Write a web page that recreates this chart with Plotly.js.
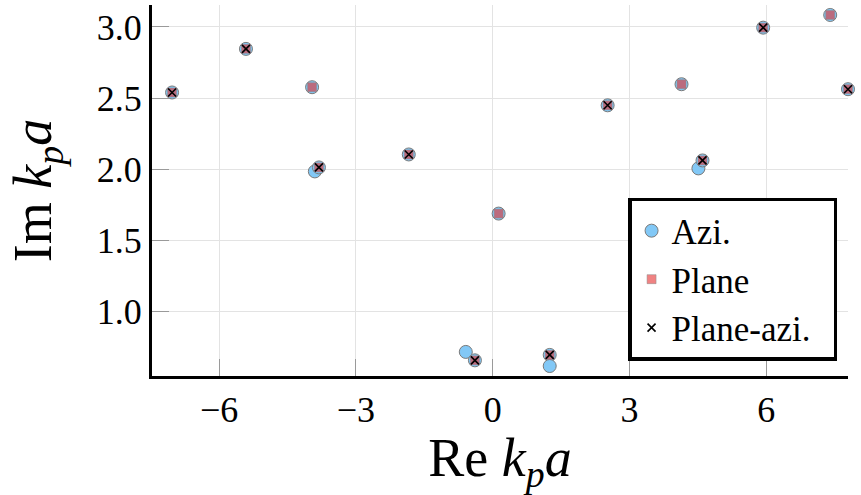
<!DOCTYPE html>
<html>
<head>
<meta charset="utf-8">
<script src="https://cdn.plot.ly/plotly-3.0.1.min.js"></script>
<style>html,body{margin:0;padding:0;background:#fff;}</style>
</head>
<body>
<div id="chart" style="width:861px;height:495px;"></div>
<script>
// Azimuthal solutions
const aziX = [-7.03, -5.41, -3.96, -3.90, -3.81, -1.84, 0.13, -0.59, -0.39, 1.25, 1.25, 2.52, 4.14, 4.51, 4.60, 5.93, 7.40, 7.79];
const aziY = [2.54, 2.846, 2.577, 1.986, 2.014, 2.105, 1.69, 0.719, 0.66, 0.698, 0.62, 2.45, 2.598, 2.007, 2.063, 2.995, 3.084, 2.563];
// Plane solutions
const planeX = [-7.03, -5.41, -3.96, -3.81, -1.84, 0.13, -0.39, 1.25, 2.52, 4.14, 4.60, 5.93, 7.40, 7.79];
const planeY = [2.54, 2.846, 2.577, 2.014, 2.105, 1.69, 0.66, 0.698, 2.45, 2.598, 2.063, 2.995, 3.084, 2.563];
// Plane-azi solutions
const planeAziX = [-7.03, -5.41, -3.81, -1.84, -0.39, 1.25, 2.52, 4.60, 5.93, 7.79];
const planeAziY = [2.54, 2.846, 2.014, 2.105, 0.66, 0.698, 2.45, 2.063, 2.995, 2.563];

const xTicks = [-6, -3, 0, 3, 6];
const xTickText = ['\u22126', '\u22123', '0', '3', '6'];
const yTicks = [1.0, 1.5, 2.0, 2.5, 3.0];
const yTickText = ['1.0', '1.5', '2.0', '2.5', '3.0'];

const FONT = 'Liberation Serif, DejaVu Serif, serif';

const traces = [
  {
    x: aziX, y: aziY, name: 'Azi.', type: 'scatter', mode: 'markers', cliponaxis: false,
    legendgroup: 'a',
    marker: {symbol: 'circle', size: 13, color: '#82c8f6', line: {color: '#7a7a7a', width: 1}}
  },
  {
    x: planeX, y: planeY, name: 'Plane', type: 'scatter', mode: 'markers', cliponaxis: false,
    legendgroup: 'b',
    marker: {symbol: 'square', size: 9, color: 'rgba(229,40,40,0.58)', line: {color: '#8a8a8a', width: 0.5}}
  },
  {
    x: planeAziX, y: planeAziY, name: 'Plane-azi.\u00a0\u00a0', type: 'scatter', mode: 'markers', cliponaxis: false,
    legendgroup: 'c',
    marker: {symbol: 'x-thin', size: 8, color: '#000', line: {color: '#000', width: 1.6}}
  }
];

const axisCommon = {
  showline: true, linecolor: '#000', linewidth: 3, mirror: false,
  showgrid: true, gridcolor: '#e3e3e3', gridwidth: 1,
  zeroline: false,
  ticks: 'inside', ticklen: 17, tickcolor: '#9a9a9a', tickwidth: 1,
  tickfont: {family: FONT, size: 36, color: '#000'}
};

const layout = {
  width: 861, height: 495,
  margin: {l: 152, r: 13, t: 5, b: 119},
  paper_bgcolor: '#fff', plot_bgcolor: '#fff',
  font: {family: FONT, color: '#000'},
  showlegend: true,
  legend: {
    x: 0.684, y: 0.48, xanchor: 'left', yanchor: 'top',
    bordercolor: '#000', borderwidth: 3.5, bgcolor: '#fff',
    font: {family: FONT, size: 35, color: '#000'},
    tracegroupgap: 0
  },
  xaxis: Object.assign({}, axisCommon, {
    range: [-7.47, 7.79],
    tickvals: xTicks, ticktext: xTickText,
    title: {text: 'Re <i>k</i><sub><i>p</i></sub><i>a</i>', font: {family: FONT, size: 54, color: '#000'}, standoff: 14}
  }),
  yaxis: Object.assign({}, axisCommon, {
    range: [0.55, 3.154],
    tickvals: yTicks, ticktext: yTickText,
    title: {text: 'Im <i>k</i><sub><i>p</i></sub><i>a</i>', font: {family: FONT, size: 54, color: '#000'}, standoff: 28}
  })
};

Plotly.newPlot('chart', traces, layout, {staticPlot: true, displayModeBar: false});
</script>
</body>
</html>
